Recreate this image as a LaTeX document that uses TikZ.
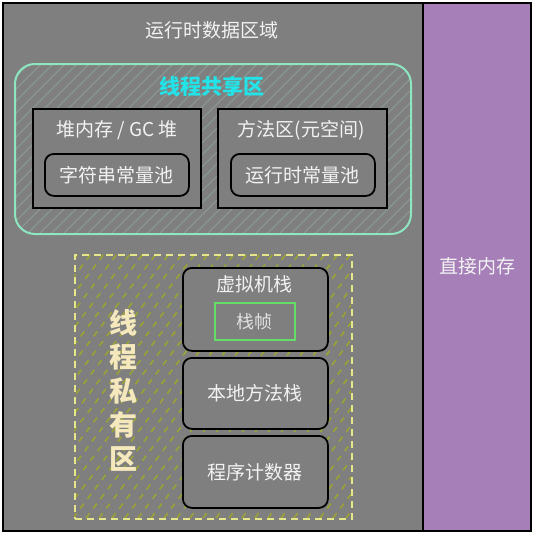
\documentclass[tikz,border=0pt]{standalone}
\usepackage{fontspec}
\setmainfont{Noto Sans CJK SC}
\definecolor{bg}{HTML}{7F7F7F}
\definecolor{purp}{HTML}{A67FB8}
\definecolor{mint}{HTML}{8EE6C0}
\definecolor{cyanT}{HTML}{22E4E8}
\definecolor{yel}{HTML}{E6E68A}
\definecolor{cream}{HTML}{F4E8BC}
\definecolor{grn}{HTML}{66DD66}
\definecolor{hatchA}{HTML}{8A9E96}
\definecolor{hatchB}{HTML}{9AA334}
\definecolor{txt}{HTML}{F2F2F2}
\begin{document}
\begin{tikzpicture}[x=1pt,y=-1pt,
  box/.style={draw=black, line width=1.8pt, fill=bg, inner sep=0pt},
  rbox/.style={box, rounded corners=9pt},
  lbl/.style={text=txt, font=\fontsize{19}{22}\selectfont, inner sep=0pt},
]
\useasboundingbox (0,0) rectangle (533,533);
% outer regions
\node[box, line width=1.5pt, minimum width=420pt, minimum height=528pt, anchor=north west] (rt) at (2,2) {};
\node[box, line width=1.5pt, fill=purp, minimum width=108pt, minimum height=528pt, anchor=north west] (direct) at (422,2) {};
\node[lbl] (directL) at (477,266) {直接内存};
\node[lbl] (rtL) at (212,30) {运行时数据区域};
% shared region hatch
\begin{scope}
  \clip[rounded corners=20pt] (14,63) rectangle (410,233);
  \foreach \i in {-200,-188,...,420} \draw[hatchA, line width=0.8pt] (\i,233) -- (\i+170,63);
\end{scope}
\node[draw=mint, line width=2pt, rounded corners=20pt, minimum width=396pt, minimum height=170pt, anchor=north west] (shared) at (14,63) {};
\node[text=cyanT, font=\fontsize{21}{24}\selectfont\bfseries, inner sep=0pt] (sharedL) at (212,86) {线程共享区};
% heap
\node[box, minimum width=168pt, minimum height=99pt, anchor=north west] (heap) at (32,108) {};
\node[lbl] (heapL) at (117,130) {堆内存 / GC 堆};
\node[rbox, minimum width=144pt, minimum height=42pt, anchor=north west] (strpool) at (44,153) {};
\node[lbl] (strpoolL) at (strpool) {字符串常量池};
% method area
\node[box, minimum width=169pt, minimum height=99pt, anchor=north west] (meth) at (217,108) {};
\node[lbl] (methL) at (301,130) {方法区(元空间)};
\node[rbox, minimum width=144pt, minimum height=42pt, anchor=north west] (rtpool) at (230,153) {};
\node[lbl] (rtpoolL) at (rtpool) {运行时常量池};
% private region hatch
\begin{scope}
  \clip (74,254) rectangle (351,518);
  \foreach \i in {-200,-187,...,360} \draw[hatchB, line width=1.6pt, dash pattern=on 6pt off 6pt] (\i,518) -- (\i+200,254);
\end{scope}
\node[draw=yel, line width=1.8pt, dash pattern=on 7pt off 5pt, minimum width=277pt, minimum height=264pt, anchor=north west] (private) at (74,254) {};
\node[text=cream, font=\fontsize{28}{34}\selectfont\bfseries, inner sep=0pt, align=center] (privL) at (123,390) {线\\程\\私\\有\\区};
% VM stack
\node[rbox, minimum width=145pt, minimum height=83pt, anchor=north west] (vms) at (182,267) {};
\node[lbl] (vmsL) at (254,284) {虚拟机栈};
\node[draw=grn, line width=1.8pt, fill=bg, minimum width=80pt, minimum height=37pt, anchor=north west, inner sep=0pt] (frame) at (214,302) {};
\node[text=txt!85!bg, font=\fontsize{18}{21}\selectfont, inner sep=0pt] (frameL) at (frame) {栈帧};
% native stack
\node[rbox, minimum width=145pt, minimum height=71pt, anchor=north west] (nms) at (182,357) {};
\node[lbl] (nmsL) at (nms) {本地方法栈};
% pc
\node[rbox, minimum width=145pt, minimum height=72pt, anchor=north west] (pc) at (182,435) {};
\node[lbl] (pcL) at (pc) {程序计数器};
\end{tikzpicture}
\end{document}
